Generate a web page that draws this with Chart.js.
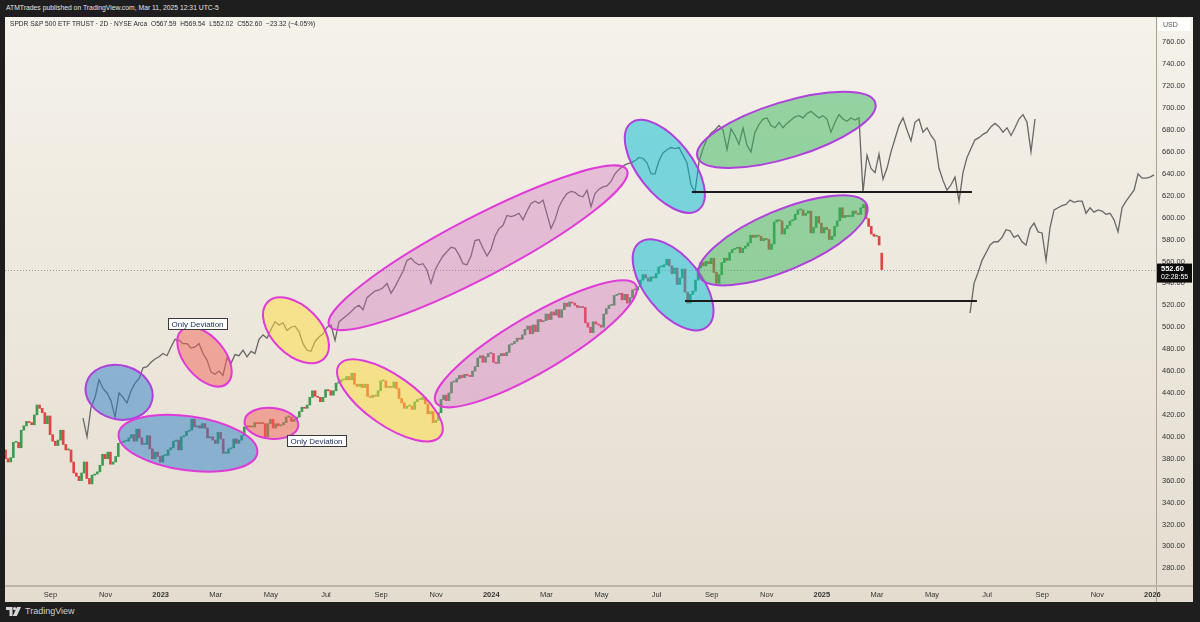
<!DOCTYPE html>
<html>
<head>
<meta charset="utf-8">
<script src="https://cdn.jsdelivr.net/npm/chart.js@4.4.1/dist/chart.umd.min.js"></script>
<style>
  html, body { margin: 0; padding: 0; width: 1200px; height: 622px; overflow: hidden; background: #1e1e1e; font-family: "Liberation Sans", Arial, sans-serif; }
  #top { position: absolute; left: 6px; top: 4px; color: #e2e2e2; font-size: 6.8px; white-space: nowrap; }
  #panel { position: absolute; left: 5px; top: 17px; width: 1188px; height: 585px; }
  #legend { position: absolute; left: 10px; top: 20px; color: #2a2a2a; font-size: 6.6px; white-space: nowrap; }
  #legend span { margin-left: 4px; }
  #foot { position: absolute; left: 6px; top: 606px; color: #d0d0d0; font-size: 9px; display: flex; align-items: center; gap: 4px; }
</style>
</head>
<body>
<div id="top">ATMTrades published on TradingView.com, Mar 11, 2025 12:31 UTC-5</div>
<div id="panel"><canvas id="chart" width="1188" height="585"></canvas></div>
<div id="legend"></div>
<div id="foot"><svg width="15" height="9" viewBox="0 0 15 9"><path d="M0 0h6.5v9H3.5V3H0z" fill="#d8d8d8"/><circle cx="8.6" cy="1.6" r="1.6" fill="#d8d8d8"/><path d="M11 0h4l-4.2 9H6.8z" fill="#d8d8d8"/></svg><span>TradingView</span></div>
<script>
// SPY 2D closes, Jul 2022 -> Mar 2025 (months counted from Jul 1 2022)
const closes = [
  388, 380, 377, 381, 395, 395, 390, 406,
  410, 414, 413, 411, 420, 429, 426, 422, 412, 419, 402, 396,
  392, 397, 406, 393, 388, 388, 377, 367, 364, 360,
  367, 377, 362, 357, 365, 366, 368, 374, 384, 380, 386,
  375, 377, 382, 394, 395, 396, 396, 399, 402, 396,
  407, 399, 393, 393, 401, 389, 380, 386, 382, 377, 383,
  383, 388, 390, 396, 397, 388, 400, 401, 405, 406,
  416, 409, 410, 408, 412, 408, 399, 400, 397,
  394, 404, 398, 385, 385, 389, 390, 398, 394, 397, 401, 409,
  410, 409, 409, 413, 412, 413, 412, 400, 412,
  416, 408, 412, 410, 411, 413, 418, 418, 414, 416, 418,
  423, 427, 426, 429, 436, 442, 437, 436, 432, 436, 443,
  442, 438, 442, 449, 450, 452, 452, 455, 452, 458,
  448, 446, 448, 445, 448, 437, 436, 438, 437, 442, 451,
  451, 445, 446, 445, 450, 444, 435, 431, 426, 428,
  428, 425, 432, 434, 434, 436, 430, 421, 423, 413, 415,
  422, 434, 438, 433, 440, 450, 450, 453, 456, 454, 457,
  456, 455, 460, 464, 472, 474, 468, 473, 476, 476,
  468, 467, 474, 476, 474, 477, 484, 485, 487, 490,
  489, 493, 498, 501, 494, 502, 496, 507, 505, 506,
  512, 507, 514, 511, 516, 509, 516, 522, 519, 523,
  522, 520, 518, 519, 518, 504, 500, 495, 505, 503, 502,
  500, 512, 517, 520, 520, 529, 530, 531, 525, 530, 522,
  527, 534, 534, 537, 543, 548, 545, 542, 546, 545,
  549, 555, 555, 557, 562, 556, 549, 554, 539, 545, 553,
  532, 522, 530, 533, 543, 554, 559, 556, 560, 558, 563,
  550, 540, 548, 559, 563, 561, 568, 571, 572, 573,
  568, 572, 574, 577, 584, 582, 584, 583, 579, 581, 580,
  571, 576, 596, 598, 597, 585, 590, 593, 597, 598,
  603, 607, 607, 602, 604, 606, 586, 591, 601, 595, 586,
  591, 589, 580, 583, 592, 597, 609, 600, 602, 601,
  601, 606, 604, 603, 609, 612, 599, 592, 585,
  583, 583, 575, 552.60
];
const candleStart = 0.27;
const barStep = 2 / 21;

// header values of the last bar
const lastOHLC = { o: 567.59, h: 569.54, l: 552.02, c: 552.60 };
const lastChange = -23.32;
const lastChangePct = -4.05;

// projected pattern (upper grey line)
const pattern1 = [
  417, 400, 427, 436, 452, 444, 440, 433, 418, 440, 436, 431, 442, 449, 453, 463, 464, 468, 471, 473, 476, 474, 482, 489, 488,
  485, 485, 481, 482, 485, 476, 470, 459, 457, 460, 456, 472, 467, 475, 474, 479, 473, 478, 476, 489, 493, 490, 498, 505, 502,
  504, 497, 500, 501, 496, 485, 479, 478, 487, 491, 494, 500, 502, 488, 505, 508, 511, 514, 518, 520, 516, 527, 530, 533, 534,
  536, 540, 531, 537, 544, 551, 561, 563, 559, 557, 558, 552, 540, 552, 559, 565, 569, 573, 572, 566, 558, 557, 565, 579, 580,
  572, 565, 571, 583, 590, 593, 602, 601, 602, 604, 598, 606, 613, 615, 613, 616, 603, 590, 598, 610, 617, 622, 624, 623, 620,
  619, 625, 610, 622, 626, 628, 629, 633, 640, 644, 647, 649, 650, 652, 655, 654, 650, 640, 640, 652, 659, 662, 664, 663, 664,
  657, 650, 630, 623, 651, 663, 672, 677, 680, 684, 680, 662, 681, 675, 667, 682, 666, 660, 678, 685, 690, 691, 684, 682, 687,
  682, 686, 689, 692, 693, 691, 695, 697, 694, 691, 693, 690, 678, 687, 694, 690, 688, 691, 689, 691, 623, 657, 645, 641, 658,
  635, 645, 660, 672, 684, 691, 680, 670, 687, 690, 678, 682, 675, 670, 645, 634, 625, 630, 637, 615, 641, 655, 663, 671, 673,
  676, 678, 683, 686, 683, 678, 682, 675, 682, 690, 694, 687, 660, 690
];
const pattern1Start = 3.18;

// projected pattern (lower grey line)
const pattern2 = [
  513, 540, 550, 561, 568, 575, 578, 578, 582, 589, 588, 582, 584, 578, 575, 590, 595, 587, 586, 561,
  591, 607, 609, 611, 612, 616, 614, 615, 615, 604, 609, 605, 607, 606, 603, 604, 598, 587, 609, 615,
  620, 625, 640, 636, 636, 637, 639
];
const pattern2Start = 35.38;
const patternStep = 0.1452;

const monthTicks = [2, 4, 6, 8, 10, 12, 14, 16, 18, 20, 22, 24, 26, 28, 30, 32, 34, 36, 38, 40, 42];
const monthLabels = ['Sep', 'Nov', '2023', 'Mar', 'May', 'Jul', 'Sep', 'Nov', '2024', 'Mar', 'May',
  'Jul', 'Sep', 'Nov', '2025', 'Mar', 'May', 'Jul', 'Sep', 'Nov', '2026'];
const yearTicks = [6, 18, 30, 42];
const priceTicks = [280, 300, 320, 340, 360, 380, 400, 420, 440, 460, 480, 500, 520, 540, 560,
  580, 600, 620, 640, 660, 680, 700, 720, 740, 760];

// drawings
const BLUE = 'rgba(41,128,200,0.5)', RED = 'rgba(244,100,90,0.5)', YEL = 'rgba(255,221,60,0.5)';
const PINK = 'rgba(206,102,190,0.35)', CYAN = 'rgba(0,188,212,0.5)', GREEN = 'rgba(56,181,92,0.5)';
const PURPLE = '#b040dc', MAGENTA = '#e03ad8';
const zones = [
  { m: 4.49, p: 440.6, rx: 34, ry: 27, rot: 15, fill: BLUE, stroke: PURPLE },
  { m: 6.99, p: 394.1, rx: 70, ry: 27, rot: 8, fill: BLUE, stroke: MAGENTA },
  { m: 7.59, p: 473.0, rx: 35, ry: 20, rot: 50, fill: RED, stroke: MAGENTA },
  { m: 10.02, p: 412.3, rx: 27, ry: 15.5, rot: 5, fill: RED, stroke: MAGENTA },
  { m: 10.91, p: 497.2, rx: 40, ry: 24, rot: 45, fill: YEL, stroke: MAGENTA },
  { m: 14.32, p: 433.3, rx: 62, ry: 25, rot: 35, fill: YEL, stroke: MAGENTA },
  { m: 17.52, p: 572.5, rx: 168, ry: 30, rot: -27.6, fill: PINK, stroke: MAGENTA },
  { m: 19.62, p: 484.9, rx: 116, ry: 28, rot: -30.4, fill: PINK, stroke: MAGENTA },
  { m: 24.30, p: 646.8, rx: 55, ry: 27, rot: 52, fill: CYAN, stroke: PURPLE },
  { m: 24.60, p: 538.7, rx: 54, ry: 28, rot: 51, fill: CYAN, stroke: PURPLE },
  { m: 28.71, p: 680.1, rx: 93, ry: 28, rot: -17, fill: GREEN, stroke: PURPLE },
  { m: 28.59, p: 579.3, rx: 91, ry: 30, rot: -23, fill: GREEN, stroke: PURPLE }
];
const levels = [
  { p: 623.4, from: 25.28, to: 35.45 },
  { p: 524.0, from: 25.03, to: 35.63 }
];
const notes = [
  { text: 'Only Deviation', m: 6.26, p: 508.1 },
  { text: 'Only Deviation', m: 10.58, p: 401.4 }
];

document.getElementById('legend').innerHTML =
  'SPDR S&amp;P 500 ETF TRUST · 2D · NYSE Arca' +
  '<span>O' + lastOHLC.o.toFixed(2) + '</span><span>H' + lastOHLC.h.toFixed(2) + '</span>' +
  '<span>L' + lastOHLC.l.toFixed(2) + '</span><span>C' + lastOHLC.c.toFixed(2) + '</span>' +
  '<span>\u2212' + Math.abs(lastChange).toFixed(2) + ' (\u2212' + Math.abs(lastChangePct).toFixed(2) + '%)</span>';

const opens = closes.map((c, i) => i === 0 ? c : closes[i - 1]);
opens[opens.length - 1] = lastOHLC.o;
const candles = closes.map((c, i) => ({ x: candleStart + i * barStep, y: [opens[i], c] }));
const line1 = pattern1.map((v, i) => ({ x: pattern1Start + i * patternStep, y: v }));
const line2 = pattern2.map((v, i) => ({ x: pattern2Start + i * patternStep, y: v }));

Chart.defaults.font.family = "'Liberation Sans', Arial, sans-serif";

const overlay = {
  id: 'overlay',
  beforeDraw(chart) {
    const { ctx, width, height } = chart;
    const g = ctx.createLinearGradient(0, 0, 0, height);
    g.addColorStop(0, '#f5f2ea');
    g.addColorStop(1, '#e4dccf');
    ctx.save();
    ctx.fillStyle = g;
    ctx.fillRect(0, 0, width, height);
    ctx.restore();
  },
  afterDatasetsDraw(chart) {
    const { ctx, chartArea: a, scales: { x, y } } = chart;
    ctx.save();
    ctx.beginPath();
    ctx.rect(a.left, a.top, a.right - a.left, a.bottom - a.top);
    ctx.clip();

    // last price dotted line
    const py = Math.round(y.getPixelForValue(lastOHLC.c)) + 0.5;
    ctx.strokeStyle = '#a09a90';
    ctx.lineWidth = 1;
    ctx.setLineDash([1, 2]);
    ctx.beginPath(); ctx.moveTo(a.left, py); ctx.lineTo(a.right, py); ctx.stroke();
    ctx.setLineDash([]);

    zones.forEach(z => {
      ctx.save();
      ctx.translate(x.getPixelForValue(z.m), y.getPixelForValue(z.p));
      ctx.rotate(z.rot * Math.PI / 180);
      ctx.beginPath();
      ctx.ellipse(0, 0, z.rx, z.ry, 0, 0, Math.PI * 2);
      ctx.fillStyle = z.fill;
      ctx.fill();
      ctx.lineWidth = 2;
      ctx.strokeStyle = z.stroke;
      ctx.stroke();
      ctx.restore();
    });

    ctx.strokeStyle = '#1c1c1c';
    ctx.lineWidth = 2;
    levels.forEach(l => {
      const ly = y.getPixelForValue(l.p);
      ctx.beginPath();
      ctx.moveTo(x.getPixelForValue(l.from), ly);
      ctx.lineTo(x.getPixelForValue(l.to), ly);
      ctx.stroke();
    });

    ctx.font = "8px 'Liberation Sans', Arial, sans-serif";
    ctx.textBaseline = 'middle';
    notes.forEach(n => {
      const nx = Math.round(x.getPixelForValue(n.m)) + 0.5;
      const ny = Math.round(y.getPixelForValue(n.p)) + 0.5;
      const w = Math.ceil(ctx.measureText(n.text).width) + 6;
      ctx.fillStyle = '#ffffff';
      ctx.fillRect(nx, ny, w, 11);
      ctx.strokeStyle = '#3a3a3a';
      ctx.lineWidth = 1;
      ctx.strokeRect(nx, ny, w, 11);
      ctx.fillStyle = '#1b2b5c';
      ctx.fillText(n.text, nx + 3, ny + 6);
    });
    ctx.restore();
  },
  afterDraw(chart) {
    const { ctx, chartArea: a, scales: { y }, width, height } = chart;
    ctx.save();
    ctx.strokeStyle = '#a8a195';
    ctx.lineWidth = 1;
    ctx.beginPath();
    ctx.moveTo(a.right + 0.5, 0); ctx.lineTo(a.right + 0.5, height);
    ctx.stroke();
    ctx.lineWidth = 2;
    ctx.strokeStyle = '#bdb5a8';
    ctx.beginPath();
    ctx.moveTo(0, a.bottom + 1); ctx.lineTo(width, a.bottom + 1);
    ctx.stroke();

    // currency box
    ctx.fillStyle = '#ffffff';
    ctx.fillRect(a.right + 2, 1, 32, 13);
    ctx.fillStyle = '#555';
    ctx.font = "7px 'Liberation Sans', Arial, sans-serif";
    ctx.textBaseline = 'middle';
    ctx.fillText('USD', a.right + 7, 8);

    // last price tag
    const py = y.getPixelForValue(lastOHLC.c);
    ctx.fillStyle = '#0b0b0b';
    ctx.fillRect(a.right + 1, py - 6, 35, 19);
    ctx.fillStyle = '#ffffff';
    ctx.font = "bold 7.5px 'Liberation Sans', Arial, sans-serif";
    ctx.fillText(lastOHLC.c.toFixed(2), a.right + 5, py - 1);
    ctx.font = "7px 'Liberation Sans', Arial, sans-serif";
    ctx.fillText('02:28:55', a.right + 5, py + 7.5);
    ctx.restore();
  }
};

new Chart(document.getElementById('chart'), {
  type: 'bar',
  data: {
    datasets: [
      {
        type: 'line',
        data: line1,
        borderColor: '#686868',
        borderWidth: 1.3,
        pointRadius: 0,
        tension: 0
      },
      {
        type: 'line',
        data: line2,
        borderColor: '#686868',
        borderWidth: 1.3,
        pointRadius: 0,
        tension: 0
      },
      {
        type: 'bar',
        data: candles,
        grouped: false,
        barThickness: 2,
        minBarLength: 1,
        borderWidth: 0,
        backgroundColor: ctx => {
          const v = ctx.raw && ctx.raw.y;
          return v && v[1] >= v[0] ? '#3f9a52' : '#e04444';
        }
      }
    ]
  },
  options: {
    responsive: false,
    animation: false,
    events: [],
    layout: { padding: 0, autoPadding: false },
    plugins: { legend: { display: false }, tooltip: { enabled: false } },
    scales: {
      x: {
        type: 'linear',
        min: 0.348,
        max: 42.13,
        offset: false,
        grid: { display: false, drawTicks: false, offset: false },
        border: { display: false },
        afterBuildTicks: s => { s.ticks = monthTicks.map(v => ({ value: v })); },
        afterFit: s => { s.height = 17; s.paddingLeft = 0; s.paddingRight = 0; },
        ticks: {
          autoSkip: false,
          maxRotation: 0,
          padding: 5,
          color: '#333',
          callback: (v, i) => monthLabels[i],
          font: ctx => ({ size: 7.5, weight: ctx.tick && yearTicks.includes(ctx.tick.value) ? 'bold' : 'normal' })
        }
      },
      y: {
        type: 'linear',
        position: 'right',
        min: 264.76,
        max: 783.09,
        grid: { display: false, drawTicks: false },
        border: { display: false },
        afterBuildTicks: s => { s.ticks = priceTicks.map(v => ({ value: v })); },
        afterFit: s => { s.width = 37; s.paddingTop = 0; s.paddingBottom = 0; },
        ticks: {
          padding: 6,
          color: '#333',
          font: { size: 7.5 },
          callback: v => v.toFixed(2)
        }
      }
    }
  },
  plugins: [overlay]
});
</script>
</body>
</html>
